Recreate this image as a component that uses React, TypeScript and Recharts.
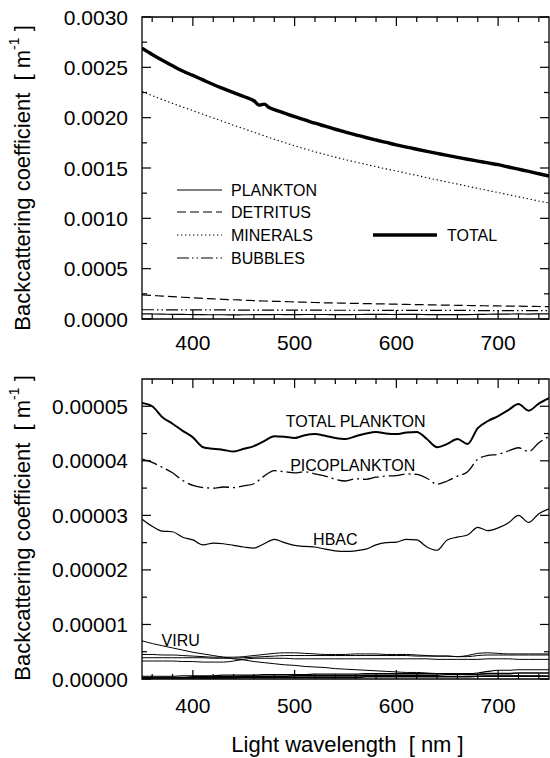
import React from 'react'
import { LineChart, Line, XAxis, YAxis, ReferenceArea } from 'recharts'

const FONT = '"Liberation Sans", Arial, Helvetica, sans-serif'

// ─── Data ─────────────────────────────────────────────────────────────────────

const WAVELENGTH = [
  350, 360, 370, 380, 390, 400, 410, 420, 430, 440, 450, 460, 470, 480, 490, 500, 510, 520, 530, 540, 550,
  560, 570, 580, 590, 600, 610, 620, 630, 640, 650, 660, 670, 680, 690, 700, 710, 720, 730, 740, 750,
]

// upper panel, in 1e-3 m^-1
const MINERALS = [
  2.26, 2.22, 2.18, 2.142, 2.105, 2.07, 2.033, 1.997, 1.961, 1.925, 1.89, 1.855, 1.82, 1.786, 1.753, 1.721,
  1.69, 1.661, 1.634, 1.608, 1.583, 1.559, 1.536, 1.513, 1.491, 1.47, 1.448, 1.426, 1.404, 1.382, 1.361,
  1.34, 1.319, 1.298, 1.277, 1.256, 1.235, 1.214, 1.193, 1.172, 1.151,
]
const DETRITUS = [
  0.24, 0.234, 0.228, 0.222, 0.216, 0.21, 0.205, 0.2, 0.195, 0.191, 0.187, 0.183, 0.179, 0.176, 0.173, 0.17,
  0.167, 0.164, 0.161, 0.159, 0.157, 0.155, 0.153, 0.151, 0.149, 0.147, 0.145, 0.143, 0.141, 0.139, 0.138,
  0.136, 0.134, 0.133, 0.131, 0.13, 0.128, 0.127, 0.125, 0.124, 0.122,
]
const BUBBLES = [
  0.092, 0.092, 0.091, 0.091, 0.091, 0.09, 0.09, 0.09, 0.09, 0.089, 0.089, 0.089, 0.089, 0.088, 0.088, 0.088,
  0.088, 0.088, 0.087, 0.087, 0.087, 0.087, 0.087, 0.086, 0.086, 0.086, 0.086, 0.086, 0.085, 0.085, 0.085,
  0.085, 0.085, 0.084, 0.084, 0.084, 0.084, 0.084, 0.083, 0.083, 0.083,
]
// total has a couple of extra samples around the small kink near 465 nm
const TOTAL_WAVELENGTH = [
  350, 360, 370, 380, 390, 400, 410, 420, 430, 440, 450, 460, 465, 470, 475, 480, 490, 500, 510, 520, 530,
  540, 550, 560, 570, 580, 590, 600, 610, 620, 630, 640, 650, 660, 670, 680, 690, 700, 710, 720, 730, 740, 750,
]
const TOTAL = [
  2.69, 2.628, 2.57, 2.515, 2.463, 2.42, 2.375, 2.33, 2.288, 2.248, 2.21, 2.168, 2.125, 2.135, 2.1, 2.08,
  2.045, 2.01, 1.978, 1.945, 1.915, 1.885, 1.857, 1.83, 1.803, 1.778, 1.754, 1.73, 1.708, 1.686, 1.665,
  1.645, 1.625, 1.606, 1.587, 1.569, 1.551, 1.533, 1.51, 1.488, 1.466, 1.443, 1.42,
]

// lower panel, in 1e-5 m^-1
const TOTAL_PLANKTON = [
  5.06, 5.0, 4.8, 4.68, 4.55, 4.43, 4.25, 4.22, 4.2, 4.17, 4.22, 4.27, 4.36, 4.45, 4.44, 4.42, 4.47, 4.49,
  4.46, 4.42, 4.4, 4.45, 4.5, 4.53, 4.5, 4.49, 4.52, 4.53, 4.4, 4.25, 4.31, 4.4, 4.31, 4.6, 4.73, 4.82,
  4.93, 5.04, 4.92, 5.05, 5.15,
]
const PICOPLANKTON = [
  4.03, 3.97, 3.88, 3.78, 3.64, 3.55, 3.51, 3.5, 3.52, 3.51, 3.54, 3.58, 3.72, 3.82, 3.8, 3.78, 3.8, 3.76,
  3.72, 3.66, 3.63, 3.67, 3.66, 3.7, 3.72, 3.73, 3.76, 3.75, 3.68, 3.57, 3.63, 3.72, 3.8, 4.03, 4.1, 4.12,
  4.18, 4.24, 4.17, 4.33, 4.45,
]
const HBAC = [
  2.93, 2.8, 2.71, 2.7, 2.6, 2.55, 2.46, 2.49, 2.48, 2.45, 2.42, 2.4, 2.48, 2.56, 2.5, 2.45, 2.43, 2.42,
  2.38, 2.35, 2.34, 2.35, 2.38, 2.46, 2.5, 2.51, 2.56, 2.55, 2.42, 2.36, 2.55, 2.6, 2.64, 2.78, 2.72, 2.77,
  2.86, 3.0, 2.87, 3.03, 3.12,
]
const VIRU = [
  0.7, 0.65, 0.61, 0.57, 0.53, 0.49, 0.46, 0.43, 0.4, 0.37, 0.35, 0.32, 0.3, 0.28, 0.26, 0.25, 0.23, 0.22,
  0.21, 0.19, 0.18, 0.17, 0.16, 0.15, 0.14, 0.13, 0.12, 0.12, 0.11, 0.1, 0.1, 0.09, 0.08, 0.08, 0.07, 0.07,
  0.07, 0.06, 0.06, 0.06, 0.05,
]
// unlabelled minor groups
const GROUP_A = [
  0.45, 0.45, 0.44, 0.44, 0.43, 0.42, 0.41, 0.4, 0.4, 0.4, 0.41, 0.43, 0.45, 0.47, 0.48, 0.48, 0.47, 0.46,
  0.45, 0.45, 0.45, 0.46, 0.46, 0.46, 0.45, 0.45, 0.45, 0.44, 0.43, 0.42, 0.42, 0.41, 0.43, 0.47, 0.48,
  0.47, 0.46, 0.46, 0.46, 0.46, 0.46,
]
const GROUP_B = [
  0.39, 0.39, 0.39, 0.39, 0.39, 0.39, 0.39, 0.38, 0.38, 0.38, 0.39, 0.4, 0.41, 0.42, 0.43, 0.43, 0.43, 0.43,
  0.43, 0.43, 0.43, 0.43, 0.43, 0.43, 0.43, 0.43, 0.43, 0.42, 0.42, 0.42, 0.42, 0.41, 0.41, 0.43, 0.44,
  0.44, 0.44, 0.44, 0.44, 0.44, 0.44,
]
const GROUP_C = [
  0.33, 0.33, 0.33, 0.33, 0.32, 0.32, 0.31, 0.31, 0.31, 0.33, 0.36, 0.38, 0.38, 0.38, 0.38, 0.37, 0.37, 0.37,
  0.37, 0.37, 0.37, 0.37, 0.37, 0.37, 0.37, 0.37, 0.37, 0.37, 0.37, 0.36, 0.36, 0.36, 0.36, 0.36, 0.37,
  0.37, 0.37, 0.36, 0.36, 0.36, 0.36,
]
const GROUP_D = [
  0.05, 0.05, 0.05, 0.05, 0.06, 0.06, 0.06, 0.06, 0.07, 0.07, 0.07, 0.07, 0.08, 0.08, 0.08, 0.08, 0.08, 0.09,
  0.09, 0.09, 0.09, 0.09, 0.1, 0.1, 0.1, 0.1, 0.1, 0.1, 0.1, 0.1, 0.1, 0.1, 0.1, 0.11, 0.14, 0.16, 0.16,
  0.17, 0.17, 0.17, 0.17,
]
const GROUP_E = [
  0.03, 0.03, 0.03, 0.03, 0.03, 0.04, 0.04, 0.04, 0.04, 0.04, 0.05, 0.05, 0.05, 0.05, 0.05, 0.06, 0.06, 0.06,
  0.06, 0.06, 0.06, 0.06, 0.07, 0.07, 0.07, 0.07, 0.07, 0.07, 0.07, 0.07, 0.08, 0.08, 0.08, 0.09, 0.1, 0.1,
  0.1, 0.11, 0.11, 0.11, 0.11,
]
const GROUP_F = [
  0.02, 0.02, 0.02, 0.02, 0.02, 0.02, 0.02, 0.02, 0.02, 0.02, 0.03, 0.03, 0.03, 0.03, 0.03, 0.03, 0.03, 0.03,
  0.03, 0.03, 0.03, 0.03, 0.04, 0.04, 0.04, 0.04, 0.04, 0.04, 0.04, 0.04, 0.04, 0.04, 0.04, 0.05, 0.05,
  0.05, 0.05, 0.05, 0.05, 0.05, 0.05,
]

const X_TICKS = [360, 380, 400, 420, 440, 460, 480, 500, 520, 540, 560, 580, 600, 620, 640, 660, 680, 700, 720, 740]
const TOP_Y_TICKS = [0, 0.25, 0.5, 0.75, 1, 1.25, 1.5, 1.75, 2, 2.25, 2.5, 2.75, 3]
const BOTTOM_Y_TICKS = [0, 0.5, 1, 1.5, 2, 2.5, 3, 3.5, 4, 4.5, 5]

const topData = WAVELENGTH.map((wl, i) => ({
  wl,
  plankton: TOTAL_PLANKTON[i] / 100,
  detritus: DETRITUS[i],
  minerals: MINERALS[i],
  bubbles: BUBBLES[i],
}))
const totalData = TOTAL_WAVELENGTH.map((wl, i) => ({ wl, total: TOTAL[i] }))

const bottomData = WAVELENGTH.map((wl, i) => ({
  wl,
  totalPlankton: TOTAL_PLANKTON[i],
  pico: PICOPLANKTON[i],
  hbac: HBAC[i],
  viru: VIRU[i],
  a: GROUP_A[i],
  b: GROUP_B[i],
  c: GROUP_C[i],
  d: GROUP_D[i],
  e: GROUP_E[i],
  f: GROUP_F[i],
}))

// ─── Styles ───────────────────────────────────────────────────────────────────

const W = 550
const PLOT_LEFT = 142
const PLOT_RIGHT = 549
const TOP_H = 370
const BOTTOM_H = 388

const LEGEND = [
  { name: 'PLANKTON', w: 1.2, dash: undefined as string | undefined, x: 177, y: 190 },
  { name: 'DETRITUS', w: 1.2, dash: '9 4', x: 177, y: 212 },
  { name: 'MINERALS', w: 1.1, dash: '1.4 2.6', x: 177, y: 235 },
  { name: 'BUBBLES', w: 1.2, dash: '12 3 1.5 3 1.5 3', x: 177, y: 258 },
  { name: 'TOTAL', w: 3.4, dash: undefined, x: 373, y: 235 },
]

// ─── Axis pieces ──────────────────────────────────────────────────────────────

function makeXTick(plotTop: number, labelDy: number) {
  return (props: any) => {
    const { x, y, payload } = props
    const v = payload.value
    const major = v % 100 === 0
    const len = major ? 9 : 5
    return (
      <g>
        <line x1={x} x2={x} y1={y} y2={y - len} stroke="#000" strokeWidth={1.2} />
        <line x1={x} x2={x} y1={plotTop} y2={plotTop + len} stroke="#000" strokeWidth={1.2} />
        {major && (
          <text x={x} y={y + labelDy} textAnchor="middle" fontSize={21} fontFamily={FONT} fill="#000">
            {v}
          </text>
        )}
      </g>
    )
  }
}

function makeYTick(isMajor: (v: number) => boolean, fmt: (v: number) => string) {
  return (props: any) => {
    const { x, y, payload } = props
    const v = payload.value
    const major = isMajor(v)
    const len = major ? 9 : 5
    return (
      <g>
        <line x1={x} x2={x + len} y1={y} y2={y} stroke="#000" strokeWidth={1.2} />
        <line x1={PLOT_RIGHT - len} x2={PLOT_RIGHT} y1={y} y2={y} stroke="#000" strokeWidth={1.2} />
        {major && (
          <text x={x - 14} y={y + 7.5} textAnchor="end" fontSize={21} fontFamily={FONT} fill="#000">
            {fmt(v)}
          </text>
        )}
      </g>
    )
  }
}

function yTitle(centerY: number) {
  return () => (
    <text
      transform={`translate(22, ${centerY}) rotate(-90)`}
      textAnchor="middle"
      dominantBaseline="central"
      fontSize={22}
      fontFamily={FONT}
      fill="#000"
      style={{ whiteSpace: 'pre' }}
    >
      {'Backcattering coefficient  [ m'}
      <tspan dy={-8} fontSize={14}>-1</tspan>
      <tspan dy={8}>{' ]'}</tspan>
    </text>
  )
}

function lineTag(text: string, at: number, dy: number, dx = 0) {
  return (props: any) => {
    if (props.index !== at) return null
    const vb = props.viewBox ?? props
    return (
      <text x={vb.x + dx} y={vb.y + dy} textAnchor="middle" fontSize={16} fontFamily={FONT} fill="#000">
        {text}
      </text>
    )
  }
}

// ─── Component ────────────────────────────────────────────────────────────────

export default function App() {
  return (
    <div style={{ position: 'absolute', left: 0, top: 0, width: W, height: 758, background: '#fff' }}>
      <div style={{ position: 'absolute', left: 0, top: 0 }}>
        <LineChart width={W} height={TOP_H} data={topData} margin={{ top: 17, right: W - PLOT_RIGHT, bottom: 0, left: 0 }}>
          <XAxis
            dataKey="wl"
            type="number"
            domain={[350, 750]}
            ticks={X_TICKS}
            interval={0}
            height={51}
            axisLine={false}
            tickLine={false}
            tickSize={0}
            tickMargin={0}
            tick={makeXTick(17, 31)}
            allowDataOverflow
          />
          <YAxis
            type="number"
            domain={[0, 3]}
            ticks={TOP_Y_TICKS}
            interval={0}
            width={PLOT_LEFT}
            axisLine={false}
            tickLine={false}
            tickSize={0}
            tickMargin={0}
            tick={makeYTick((v) => Math.abs(v * 2 - Math.round(v * 2)) < 1e-9, (v) => (v / 1000).toFixed(4))}
            label={{ content: yTitle(178) }}
            allowDataOverflow
          />
          <Line type="monotone" dataKey="plankton" stroke="#000" strokeWidth={1.2} dot={false} activeDot={false} isAnimationActive={false} />
          <Line type="monotone" dataKey="detritus" stroke="#000" strokeWidth={1.2} strokeDasharray="9 4" dot={false} activeDot={false} isAnimationActive={false} />
          <Line type="monotone" dataKey="minerals" stroke="#000" strokeWidth={1.1} strokeDasharray="1.4 2.6" dot={false} activeDot={false} isAnimationActive={false} />
          <Line type="monotone" dataKey="bubbles" stroke="#000" strokeWidth={1.2} strokeDasharray="12 3 1.5 3 1.5 3" dot={false} activeDot={false} isAnimationActive={false} />
          <Line type="monotone" data={totalData} dataKey="total" stroke="#000" strokeWidth={3.4} dot={false} activeDot={false} isAnimationActive={false} />
          <ReferenceArea x1={350} x2={750} y1={0} y2={3} fill="none" stroke="#000" strokeWidth={1.3} fillOpacity={0} />
        </LineChart>
      </div>

      <svg width={W} height={TOP_H} style={{ position: 'absolute', left: 0, top: 0, pointerEvents: 'none' }}>
        {LEGEND.map((l) => (
          <g key={l.name}>
            <line x1={l.x} x2={l.x + (l.name === 'TOTAL' ? 64 : 45)} y1={l.y} y2={l.y} stroke="#000" strokeWidth={l.w} strokeDasharray={l.dash} />
            <text x={l.x + (l.name === 'TOTAL' ? 74 : 54)} y={l.y + 6} fontSize={16} fontFamily={FONT} fill="#000">
              {l.name}
            </text>
          </g>
        ))}
      </svg>

      <div style={{ position: 'absolute', left: 0, top: TOP_H }}>
        <LineChart width={W} height={BOTTOM_H} data={bottomData} margin={{ top: 9, right: W - PLOT_RIGHT, bottom: 0, left: 0 }}>
          <XAxis
            dataKey="wl"
            type="number"
            domain={[350, 750]}
            ticks={X_TICKS}
            interval={0}
            height={79}
            axisLine={false}
            tickLine={false}
            tickSize={0}
            tickMargin={0}
            tick={makeXTick(9, 34)}
            allowDataOverflow
            label={{
              content: () => (
                <text x={(PLOT_LEFT + PLOT_RIGHT) / 2 + 2} y={BOTTOM_H - 6} textAnchor="middle" fontSize={22} fontFamily={FONT} fill="#000" style={{ whiteSpace: 'pre' }}>
                  {'Light wavelength  [ nm ]'}
                </text>
              ),
            }}
          />
          <YAxis
            type="number"
            domain={[0, 5.5]}
            ticks={BOTTOM_Y_TICKS}
            interval={0}
            width={PLOT_LEFT}
            axisLine={false}
            tickLine={false}
            tickSize={0}
            tickMargin={0}
            tick={makeYTick((v) => Math.abs(v - Math.round(v)) < 1e-9, (v) => (v / 100000).toFixed(5))}
            label={{ content: yTitle(158) }}
            allowDataOverflow
          />
          <Line type="monotone" dataKey="f" stroke="#000" strokeWidth={1.6} dot={false} activeDot={false} isAnimationActive={false} />
          <Line type="monotone" dataKey="e" stroke="#000" strokeWidth={1.4} dot={false} activeDot={false} isAnimationActive={false} />
          <Line type="monotone" dataKey="d" stroke="#000" strokeWidth={1.2} dot={false} activeDot={false} isAnimationActive={false} />
          <Line type="monotone" dataKey="c" stroke="#000" strokeWidth={1} dot={false} activeDot={false} isAnimationActive={false} />
          <Line type="monotone" dataKey="b" stroke="#000" strokeWidth={1} dot={false} activeDot={false} isAnimationActive={false} />
          <Line type="monotone" dataKey="a" stroke="#000" strokeWidth={1} dot={false} activeDot={false} isAnimationActive={false} />
          <Line type="monotone" dataKey="viru" stroke="#000" strokeWidth={1} dot={false} activeDot={false} isAnimationActive={false} label={lineTag('VIRU', 4, -4, -2)} />
          <Line type="monotone" dataKey="hbac" stroke="#000" strokeWidth={1.2} dot={false} activeDot={false} isAnimationActive={false} label={lineTag('HBAC', 19, -6)} />
          <Line type="monotone" dataKey="pico" stroke="#000" strokeWidth={1.3} strokeDasharray="16 4 2 4" dot={false} activeDot={false} isAnimationActive={false} label={lineTag('PICOPLANKTON', 21, -8, -3)} />
          <Line type="monotone" dataKey="totalPlankton" stroke="#000" strokeWidth={2} dot={false} activeDot={false} isAnimationActive={false} label={lineTag('TOTAL PLANKTON', 21, -9)} />
          <ReferenceArea x1={350} x2={750} y1={0} y2={5.5} fill="none" stroke="#000" strokeWidth={1.3} fillOpacity={0} />
        </LineChart>
      </div>
    </div>
  )
}
